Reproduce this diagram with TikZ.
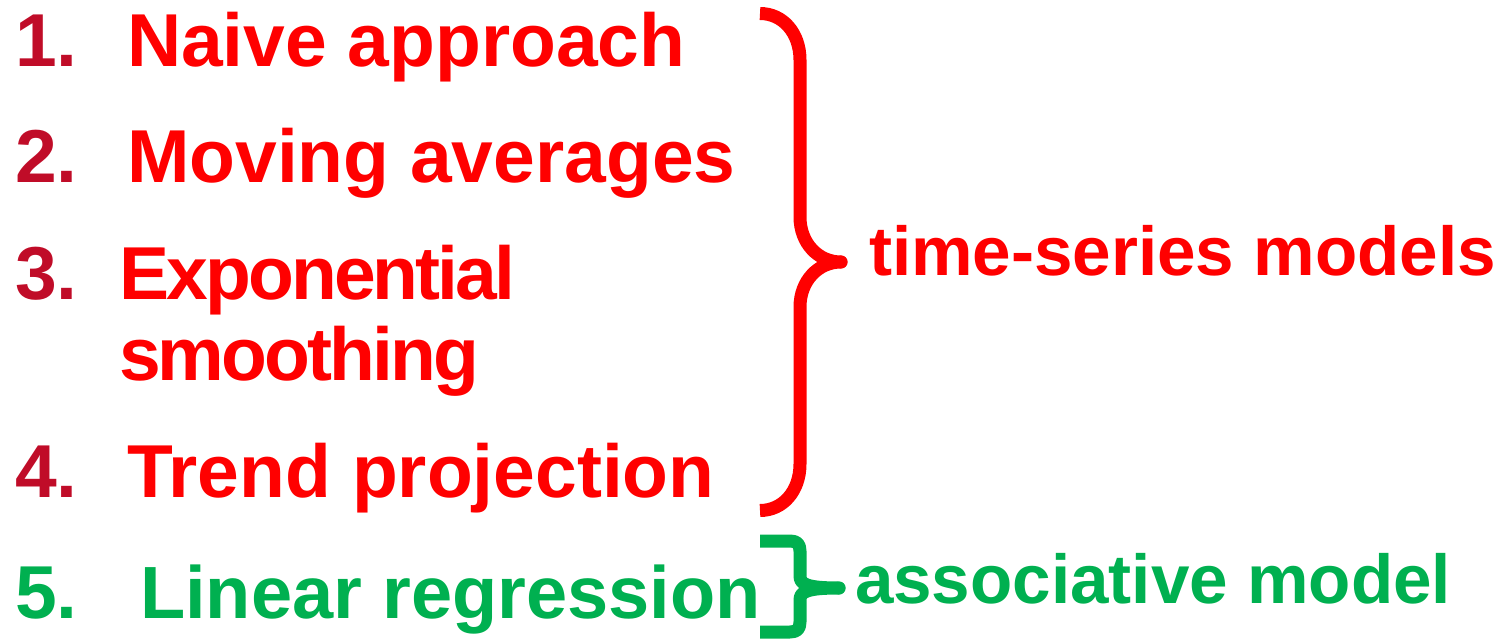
\documentclass[tikz,border=0pt]{standalone}
\usepackage{fontspec}
\setmainfont{Liberation Sans}
\definecolor{numred}{RGB}{192,12,40}
\definecolor{itemred}{RGB}{255,0,0}
\definecolor{assocgreen}{RGB}{0,176,80}
\begin{document}
\begin{tikzpicture}[x=1pt,y=-1pt,
  txt/.style={anchor=base west,inner sep=0pt,outer sep=0pt,
    font=\fontsize{75}{80}\selectfont\bfseries},
  lbl/.style={anchor=base west,inner sep=0pt,outer sep=0pt,
    font=\fontsize{69.2}{75}\selectfont\bfseries},
  num/.style={txt,text=numred},
  brace/.style={line width=13pt,line cap=butt,line join=round}]
\useasboundingbox (0,0) rectangle (1500,639);

% numbered list
\node[num] (n1) at (15,67) {1.};
\node[num] (n2) at (15,183) {2.};
\node[num] (n3) at (15,300) {3.};
\node[num] (n4) at (15,497) {4.};
\node[txt,text=assocgreen] (n5) at (15,618) {5.};

\node[txt,text=itemred] (t1) at (127,67) {Naive approach};
\node[txt,text=itemred] (t2) at (127,183) {Moving averages};
\node[txt,text=itemred] (t3a) at (119,300) {\addfontfeature{LetterSpace=-3.8}Exponential};
\node[txt,text=itemred] (t3b) at (119,380) {\addfontfeature{LetterSpace=-3.8}smoothing};
\node[txt,text=itemred] (t4) at (127,497) {Trend projection};
\node[txt,text=assocgreen,font=\fontsize{74}{80}\selectfont\bfseries] (t5) at (140,618) {Linear regression};

% group labels
\node[lbl,text=itemred] (ts) at (869,276) {time-series models};
\node[lbl,text=assocgreen] (as) at (855,603) {associative model};

% red brace
\draw[brace,itemred]
  (760,13.5) .. controls (783,13.5) and (800,33) .. (800,60)
  -- (800,217) .. controls (800,243) and (818,262) .. (841,262)
  .. controls (818,262) and (800,281) .. (800,307)
  -- (800,464) .. controls (800,491) and (783,510.5) .. (760,510.5);
\fill[itemred] (841,262) circle (6.5pt);

% green brace
\draw[brace,assocgreen]
  (760,541) -- (790,541) .. controls (797,541) and (800,544) .. (800,551)
  -- (800,576) .. controls (800,584) and (806,588) .. (839,588)
  .. controls (806,588) and (800,592) .. (800,600)
  -- (800,622) .. controls (800,629) and (797,632) .. (790,632) -- (760,632);
\fill[assocgreen] (839,588) circle (6.5pt);
\end{tikzpicture}
\end{document}
